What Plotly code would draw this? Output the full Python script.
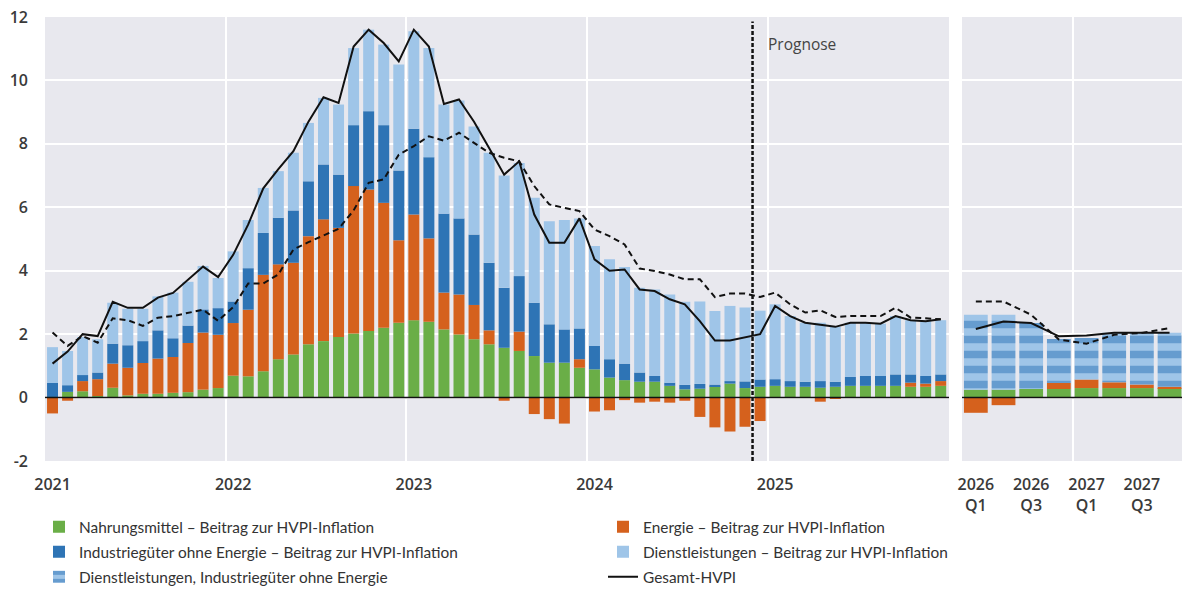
import plotly.graph_objects as go

# ---------------- data: monthly, Jan 2021 .. Dec 2025 ----------------
months = list(range(60))
year_ticks = [0, 12, 24, 36, 48]
year_labels = ["2021", "2022", "2023", "2024", "2025"]
year_bounds = [11.5, 23.5, 35.5, 47.5]
forecast_start = 47  # Dec 2024

food = [0.02, 0.18, 0.20, 0.05, 0.31, 0.07, 0.12, 0.12, 0.15, 0.17, 0.25, 0.30,
        0.69, 0.67, 0.83, 1.21, 1.36, 1.68, 1.78, 1.91, 2.02, 2.10, 2.20, 2.36,
        2.44, 2.39, 2.15, 1.99, 1.84, 1.68, 1.57, 1.47, 1.31, 1.10, 1.10, 0.94,
        0.89, 0.63, 0.55, 0.50, 0.50, 0.37, 0.26, 0.28, 0.35, 0.44, 0.30, 0.34,
        0.37, 0.34, 0.34, 0.31, 0.34, 0.37, 0.37, 0.37, 0.37, 0.34, 0.34, 0.37]

energy = [-0.50, -0.10, 0.32, 0.53, 0.76, 0.87, 0.97, 1.11, 1.13, 1.55, 1.80, 1.68,
          1.66, 2.10, 3.04, 2.99, 2.89, 3.41, 3.84, 3.44, 4.65, 4.46, 3.94, 2.60,
          3.33, 2.63, 1.16, 1.26, 1.08, 0.44, -0.10, 0.61, -0.52, -0.68, -0.82, 0.27,
          -0.44, -0.40, -0.08, -0.16, -0.13, -0.16, -0.10, -0.61, -0.94, -1.07, -0.92, -0.74,
          0.00, 0.00, 0.00, -0.13, -0.03, 0.00, 0.00, 0.00, 0.00, 0.13, 0.10, 0.15]

neig = [0.44, 0.21, 0.19, 0.21, 0.63, 0.71, 0.69, 0.89, 0.59, 0.55, 0.73, 0.84,
        0.68, 1.31, 1.32, 1.47, 1.65, 1.73, 1.73, 1.68, 1.92, 2.47, 2.45, 2.20,
        2.71, 2.56, 2.49, 2.40, 2.22, 2.13, 1.89, 1.75, 1.68, 1.21, 1.05, 0.97,
        0.74, 0.58, 0.52, 0.29, 0.18, 0.10, 0.14, 0.15, 0.06, 0.08, 0.21, 0.23,
        0.21, 0.18, 0.16, 0.21, 0.16, 0.28, 0.31, 0.31, 0.36, 0.26, 0.24, 0.21]

services = [1.13, 1.08, 1.20, 1.05, 1.29, 1.15, 1.02, 1.07, 1.44, 1.38, 1.37, 0.95,
            1.58, 1.52, 1.42, 1.47, 1.82, 1.84, 2.10, 2.21, 2.43, 2.57, 2.54, 3.34,
            3.07, 3.44, 3.44, 3.72, 3.41, 3.47, 3.54, 3.57, 3.31, 3.25, 3.45, 3.47,
            3.15, 3.15, 3.05, 2.67, 2.73, 2.78, 2.62, 2.60, 2.32, 2.37, 2.33, 2.17,
            2.36, 2.05, 1.86, 1.84, 1.73, 1.71, 1.68, 1.65, 1.84, 1.71, 1.73, 1.71]

hicp = [1.07, 1.45, 2.00, 1.94, 3.02, 2.83, 2.83, 3.15, 3.30, 3.73, 4.13, 3.80,
        4.50, 5.46, 6.60, 7.20, 7.77, 8.70, 9.47, 9.29, 11.07, 11.60, 11.18, 10.60,
        11.60, 11.07, 9.26, 9.40, 8.70, 7.87, 7.03, 7.45, 5.77, 4.88, 4.88, 5.65,
        4.36, 4.00, 4.04, 3.41, 3.36, 3.10, 2.94, 2.41, 1.80, 1.80, 1.90, 2.00,
        2.89, 2.57, 2.36, 2.29, 2.23, 2.36, 2.36, 2.33, 2.57, 2.44, 2.41, 2.47]

core = [2.05, 1.63, 1.94, 1.73, 2.50, 2.44, 2.26, 2.52, 2.57, 2.68, 2.77, 2.42,
        2.85, 3.60, 3.60, 3.88, 4.67, 4.90, 5.10, 5.32, 5.90, 6.77, 6.88, 7.66,
        7.93, 8.24, 8.10, 8.35, 8.03, 7.72, 7.56, 7.45, 6.67, 6.09, 5.98, 5.88,
        5.30, 5.09, 4.83, 4.07, 3.99, 3.88, 3.73, 3.73, 3.17, 3.28, 3.28, 3.17,
        3.31, 2.94, 2.68, 2.75, 2.54, 2.57, 2.57, 2.57, 2.83, 2.52, 2.50, 2.47]

# ---------------- data: quarterly, 2026 Q1 .. 2027 Q4 ----------------
quarters = list(range(8))
q_ticks = [0, 2, 4, 6]
q_labels = ["2026<br>Q1", "2026<br>Q3", "2027<br>Q1", "2027<br>Q3"]
q_bounds = [3.5]

q_food = [0.25, 0.25, 0.27, 0.27, 0.30, 0.30, 0.30, 0.30]
q_energy = [-0.48, -0.24, 0.00, 0.19, 0.27, 0.18, 0.11, 0.04]
q_serv_goods = [2.36, 2.36, 2.08, 1.39, 1.31, 1.56, 1.63, 1.70]
q_hicp = [2.16, 2.40, 2.35, 1.93, 1.96, 2.04, 2.04, 2.04]
q_core = [3.03, 3.03, 2.61, 1.83, 1.70, 1.98, 2.04, 2.19]

y_ticks = [-2, 0, 2, 4, 6, 8, 10, 12]
y_labels = ["-2", "0", "2", "4", "6", "8", "10", "12"]

# ---------------- styling ----------------
GREEN = "#6aae47"
ORANGE = "#d5611d"
DBLUE = "#2e74b5"
LBLUE = "#9fc5e8"
BG = "#e8e8ee"
TXT = "#3a3a3a"
W_M = 0.73
W_Q = 0.86

fig = go.Figure()

# left panel bars (stack order: food, energy, goods, services)
fig.add_bar(x=months, y=food, name="Nahrungsmittel \u2013 Beitrag zur HVPI-Inflation",
            marker=dict(color=GREEN, line_width=0), width=W_M, legendgroup="food",
            legend="legend")
fig.add_bar(x=months, y=energy, name="Energie \u2013 Beitrag zur HVPI-Inflation",
            marker=dict(color=ORANGE, line_width=0), width=W_M, legendgroup="energy",
            legend="legend")
fig.add_bar(x=months, y=neig, name="Industrieg\u00fcter ohne Energie \u2013 Beitrag zur HVPI-Inflation",
            marker=dict(color=DBLUE, line_width=0), width=W_M, legend="legend2")
fig.add_bar(x=months, y=services, name="Dienstleistungen \u2013 Beitrag zur HVPI-Inflation",
            marker=dict(color=LBLUE, line_width=0), width=W_M, legend="legend2")

# right panel bars
fig.add_bar(x=quarters, y=q_food, marker=dict(color=GREEN, line_width=0), width=W_Q,
            xaxis="x2", yaxis="y2", showlegend=False, legendgroup="food")
fig.add_bar(x=quarters, y=q_energy, marker=dict(color=ORANGE, line_width=0), width=W_Q,
            xaxis="x2", yaxis="y2", showlegend=False, legendgroup="energy")
fig.add_bar(x=quarters, y=q_serv_goods, name="Dienstleistungen, Industrieg\u00fcter ohne Energie",
            marker=dict(color=LBLUE, line_width=0,
                        pattern=dict(shape="-", fgcolor=DBLUE, bgcolor=LBLUE, size=15,
                                     solidity=0.5)),
            width=W_Q, xaxis="x2", yaxis="y2", legend="legend3")

# lines
fig.add_scatter(x=months, y=hicp, mode="lines", name="Gesamt-HVPI",
                line=dict(color="#111111", width=2), legendgroup="hicp", legend="legend3")
fig.add_scatter(x=months, y=core, mode="lines", showlegend=False,
                line=dict(color="#111111", width=2, dash="6px,4px"))
fig.add_scatter(x=quarters, y=q_hicp, mode="lines", showlegend=False, legendgroup="hicp",
                line=dict(color="#111111", width=2), xaxis="x2", yaxis="y2")
fig.add_scatter(x=quarters, y=q_core, mode="lines", showlegend=False,
                line=dict(color="#111111", width=2, dash="6px,4px"), xaxis="x2", yaxis="y2")

tickfont = dict(family="Open Sans", size=16, color=TXT, weight=600)
L, R = 45, 0
PW = 1182 - L - R
d1 = (949 - L) / PW
d2 = (962 - L) / PW


def legend_row(ytop):
    return dict(orientation="h", xref="container", yref="container",
                x=0.033, xanchor="left", y=ytop, yanchor="top",
                entrywidth=519, entrywidthmode="pixels", traceorder="normal",
                font=dict(family="Lato", size=15.4, color="#333333"),
                bgcolor="rgba(0,0,0,0)")


fig.update_layout(
    width=1182, height=590,
    barmode="relative",
    margin=dict(l=L, r=R, t=17, b=129, autoexpand=False),
    paper_bgcolor="white", plot_bgcolor=BG,
    font=dict(family="Open Sans", color=TXT),
    xaxis=dict(domain=[0, d1], range=[-0.5, 59.55], tickmode="array",
               tickvals=year_ticks, ticktext=year_labels, showgrid=False, ticks="",
               tickfont=tickfont, ticklabelstandoff=12, zeroline=False,
               minor=dict(tickmode="array", tickvals=year_bounds, showgrid=True,
                          gridcolor="white", gridwidth=1.5, ticks="")),
    yaxis=dict(range=[-2, 12], tickmode="array", tickvals=y_ticks, ticktext=y_labels,
               showgrid=True, gridcolor="white", gridwidth=1.5, zeroline=False,
               ticks="", tickfont=tickfont, ticklabelstandoff=16),
    xaxis2=dict(domain=[d2, 1], anchor="y2", range=[-0.5, 7.45], tickmode="array",
                tickvals=q_ticks, ticktext=q_labels, showgrid=False, ticks="",
                tickfont=tickfont, ticklabelstandoff=12, zeroline=False,
                minor=dict(tickmode="array", tickvals=q_bounds, showgrid=True,
                           gridcolor="white", gridwidth=1.5, ticks="")),
    yaxis2=dict(anchor="x2", matches="y", range=[-2, 12], tickmode="array", tickvals=y_ticks,
                showticklabels=False, showgrid=True, gridcolor="white", gridwidth=1.5,
                zeroline=False, ticks=""),
    legend=legend_row(0.135),
    legend2=legend_row(0.135 - 25 / 590),
    legend3=legend_row(0.135 - 50 / 590),
    showlegend=True,
)

# zero lines above bars
for xr, yr in (("x domain", "y"), ("x2 domain", "y2")):
    fig.add_shape(type="line", xref=xr, yref=yr, x0=0, x1=1, y0=0, y1=0,
                  line=dict(color="#111111", width=1.6), layer="above")

# forecast marker
fig.add_shape(type="line", xref="x", yref="y domain",
              x0=forecast_start - 0.5, x1=forecast_start - 0.5, y0=0, y1=0.99,
              line=dict(color="#111111", width=2.5, dash="4px,2px"), layer="above")
fig.add_annotation(xref="x", yref="y", x=forecast_start + 0.4, y=11.15, xanchor="left",
                   text="Prognose", showarrow=False,
                   font=dict(family="Open Sans", size=15.5, color="#444444"))

fig.write_html("out.html", config={"displayModeBar": False},
               post_script="document.body.style.margin='0';document.body.style.overflow='hidden';")
